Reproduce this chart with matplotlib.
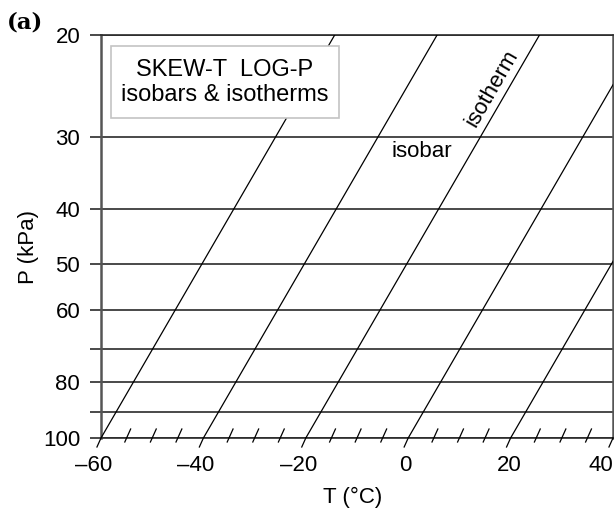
import numpy as np
import matplotlib
matplotlib.use("Agg")
import matplotlib.pyplot as plt
from matplotlib.patches import Rectangle
from matplotlib.transforms import ScaledTranslation

plt.rcParams['font.family'] = ['Liberation Sans', 'DejaVu Sans']
FS = 16

# skew of the isotherms: degrees C shifted right per decade of pressure
SKEW = 65.3

isobars = [20, 30, 40, 50, 60, 70, 80, 90, 100]          # kPa
p_ticklabels = ['20', '30', '40', '50', '60', '', '80', '', '100']
isotherms = [-60, -40, -20, 0, 20, 40]                    # deg C
t_ticks = [-60, -40, -20, 0, 20, 40]
t_ticklabels = ['–60', '–40', '–20', '0', '20', '40']
t_minor = [t for t in range(-60, 41, 5) if t % 20 != 0]

fig = plt.figure(figsize=(6.14, 5.16), dpi=100)
ax = fig.add_axes([101 / 614, 1 - 438 / 516, 512 / 614, 403 / 516])
ax.set_yscale('log')
ax.set_xlim(-60, 40)
ax.set_ylim(100, 20)

# isobars
for p in isobars:
    ax.axhline(p, color='#2a2a2a', lw=1.2, zorder=2)

# isotherms, skewed with log p
p_line = np.array([100.0, 20.0])
for t in isotherms:
    ax.plot(t + SKEW * np.log10(100 / p_line), p_line, color='black', lw=0.9, zorder=3)

ax.set_yticks(isobars)
ax.set_yticklabels(p_ticklabels)
ax.yaxis.set_minor_locator(matplotlib.ticker.NullLocator())
ax.tick_params(axis='y', which='major', length=8, width=1.2, color='#2a2a2a',
               labelsize=FS, pad=7)
ax.set_xticks(t_ticks)
ax.set_xticklabels(t_ticklabels)
ax.tick_params(axis='x', length=0, labelsize=FS, pad=12)

# keep the digits centred under the tick; the last one is pulled inside the figure
shifts = [-5.5, -5.5, -5.5, -2, -1, -9]
for lab, dx in zip(ax.get_xticklabels(), shifts):
    lab.set_transform(lab.get_transform() + ScaledTranslation(dx / 72, 0, fig.dpi_scale_trans))

for side in ['left', 'right']:
    ax.spines[side].set_color('#555555')
    ax.spines[side].set_linewidth(1.8)
for side in ['top', 'bottom']:
    ax.spines[side].set_color('#2a2a2a')
    ax.spines[side].set_linewidth(1.2)

ax.set_xlabel('T (°C)', fontsize=FS)
ax.set_ylabel('P (kPa)', fontsize=FS)
ax.xaxis.set_label_coords(0.492, -0.122)
ax.yaxis.set_label_coords(-0.122, 0.474)

# slanted hatch ticks along the 100 kPa axis
to_data = ax.transData.inverted()
for t in t_ticks + t_minor:
    x0, y0 = ax.transData.transform((t, 100))
    if t % 20 == 0:
        below, above = 9, 0
    else:
        below, above = 4, 9
    pts = np.array([[x0 - 0.45 * below, y0 - below], [x0 + 0.45 * above, y0 + above]])
    d = to_data.transform(pts)
    ax.plot(d[:, 0], d[:, 1], color='black', lw=0.9, clip_on=False, zorder=4)

ax.add_patch(Rectangle((0.0195, 0.794), 0.446, 0.179, transform=ax.transAxes,
                       fc='white', ec='#c4c4c4', lw=1.2, zorder=5))
ax.text(0.242, 0.882, 'SKEW-T  LOG-P\nisobars & isotherms', transform=ax.transAxes,
        ha='center', va='center', fontsize=17, linespacing=1.15, zorder=6)
ax.text(0.626, 0.71, 'isobar', transform=ax.transAxes, ha='center', va='center',
        fontsize=FS, zorder=5)
ax.text(0.764, 0.868, 'isotherm', transform=ax.transAxes, ha='center', va='center',
        fontsize=FS, rotation=60, zorder=5)

fig.text(7 / 614, 1 - 22 / 516, '(a)', fontsize=16.5, fontweight='bold',
         family='DejaVu Serif', ha='left', va='center')

fig.savefig('out.png', dpi=100)
